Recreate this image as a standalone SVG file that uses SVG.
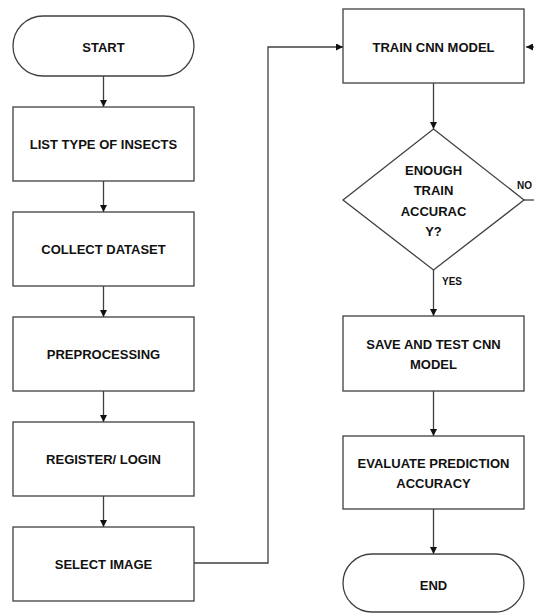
<svg xmlns="http://www.w3.org/2000/svg" width="534" height="614" viewBox="0 0 534 614">
<defs>
<style>
.box{fill:#fff;stroke:#404040;stroke-width:1.3}
.ln{fill:none;stroke:#404040;stroke-width:1.3}
.t{font-family:"Liberation Sans",Arial,sans-serif;font-weight:bold;font-size:13px;fill:#111;text-anchor:middle}
.s{font-family:"Liberation Sans",Arial,sans-serif;font-weight:bold;font-size:10px;fill:#111}
</style>
<marker id="ah" viewBox="0 0 10 10" refX="10" refY="5" markerWidth="7" markerHeight="7" markerUnits="userSpaceOnUse" orient="auto">
<path d="M0,0 L10,5 L0,10 z" fill="#111"/>
</marker>
</defs>
<rect width="534" height="614" fill="#fff"/>
<g id="connectors">
<line class="ln" x1="103.5" y1="76" x2="103.5" y2="107" marker-end="url(#ah)"/>
<line class="ln" x1="103.5" y1="181" x2="103.5" y2="212" marker-end="url(#ah)"/>
<line class="ln" x1="103.5" y1="286" x2="103.5" y2="317" marker-end="url(#ah)"/>
<line class="ln" x1="103.5" y1="391" x2="103.5" y2="422" marker-end="url(#ah)"/>
<line class="ln" x1="103.5" y1="496" x2="103.5" y2="527" marker-end="url(#ah)"/>
<polyline class="ln" points="194,563 268,563 268,47 343,47" marker-end="url(#ah)"/>
<line class="ln" x1="433.5" y1="83" x2="433.5" y2="129" marker-end="url(#ah)"/>
<line class="ln" x1="433.5" y1="270" x2="433.5" y2="316" marker-end="url(#ah)"/>
<line class="ln" x1="524" y1="200" x2="534" y2="200"/>
<line class="ln" x1="534" y1="47" x2="526" y2="47" marker-end="url(#ah)"/>
<line class="ln" x1="433.5" y1="391" x2="433.5" y2="436" marker-end="url(#ah)"/>
<line class="ln" x1="433.5" y1="509" x2="433.5" y2="554" marker-end="url(#ah)"/>
<text class="s" x="517" y="189">NO</text>
<text class="s" x="442" y="284.5">YES</text>
</g>
<g id="start">
<rect class="box" x="13" y="16" width="181" height="60" rx="30" ry="30"/>
<text class="t" x="103.5" y="51.5">START</text>
</g>
<g id="list">
<rect class="box" x="13" y="107" width="181" height="74"/>
<text class="t" x="103.5" y="148.5">LIST TYPE OF INSECTS</text>
</g>
<g id="collect">
<rect class="box" x="13" y="212" width="181" height="74"/>
<text class="t" x="103.5" y="253.5">COLLECT DATASET</text>
</g>
<g id="preprocessing">
<rect class="box" x="13" y="317" width="181" height="74"/>
<text class="t" x="103.5" y="358.5">PREPROCESSING</text>
</g>
<g id="register">
<rect class="box" x="13" y="422" width="181" height="74"/>
<text class="t" x="103.5" y="463.5">REGISTER/ LOGIN</text>
</g>
<g id="select">
<rect class="box" x="13" y="527" width="181" height="74"/>
<text class="t" x="103.5" y="568.5">SELECT IMAGE</text>
</g>
<g id="train">
<rect class="box" x="343" y="9" width="181" height="74"/>
<text class="t" x="433.5" y="51.5">TRAIN CNN MODEL</text>
</g>
<g id="decision">
<polygon class="box" points="433.5,129 524,200 433.5,270 343,200"/>
<text class="t" x="433.5" y="174.5">ENOUGH</text>
<text class="t" x="433.5" y="195">TRAIN</text>
<text class="t" x="433.5" y="216">ACCURAC</text>
<text class="t" x="433.5" y="235.5">Y?</text>
</g>
<g id="save">
<rect class="box" x="343" y="316" width="181" height="75"/>
<text class="t" x="433.5" y="348.5">SAVE AND TEST CNN</text>
<text class="t" x="433.5" y="368.5">MODEL</text>
</g>
<g id="evaluate">
<rect class="box" x="343" y="436" width="181" height="73"/>
<text class="t" x="433.5" y="467.5">EVALUATE PREDICTION</text>
<text class="t" x="433.5" y="487.5">ACCURACY</text>
</g>
<g id="end">
<rect class="box" x="343" y="554" width="181" height="58" rx="29" ry="29"/>
<text class="t" x="433.5" y="589.5">END</text>
</g>
</svg>
